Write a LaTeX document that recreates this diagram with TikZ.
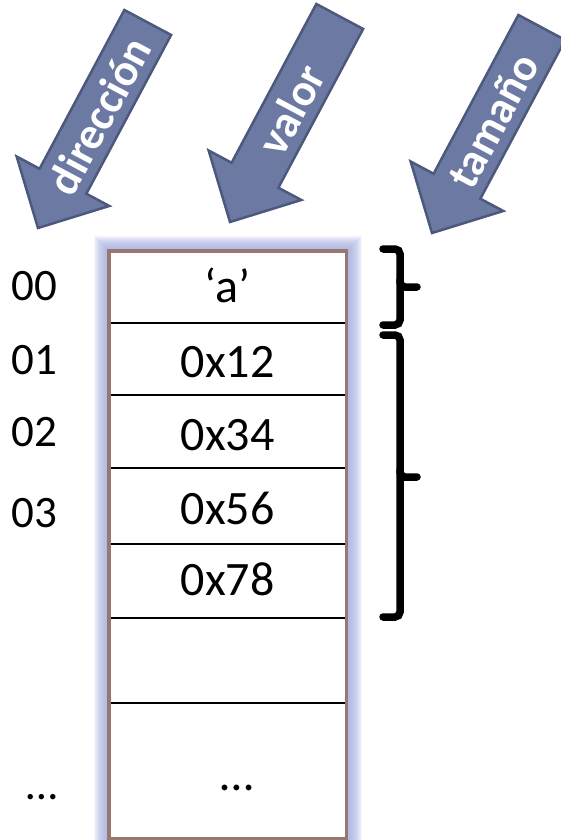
\documentclass[tikz,border=0pt]{standalone}
\usepackage{fontspec}
\setmainfont{Carlito}
\definecolor{arrowfill}{RGB}{108,121,162}
\definecolor{arrowedge}{RGB}{76,88,124}
\definecolor{boxedge}{RGB}{150,120,112}
\definecolor{glowcol}{RGB}{160,170,222}
\begin{document}
\begin{tikzpicture}[x=1pt,y=1pt,
  celltext/.style={font=\fontsize{48}{52}\selectfont, anchor=base, inner sep=0pt},
  addrtext/.style={font=\fontsize{45}{50}\selectfont, anchor=base, inner sep=0pt},
  arrowbody/.style={fill=arrowfill, draw=arrowedge, line width=2.5pt, line join=miter},
  arrowtext/.style={font=\bfseries\fontsize{45}{48}\selectfont, text=white, rotate=61.9, inner sep=0pt},
  bracestyle/.style={line width=7.5pt, rounded corners=5pt, line cap=round},
  rowline/.style={line width=1.6pt, black}
]
\useasboundingbox (0,0) rectangle (561,-840);

% block arrows: tip at the origin of each scope, pointing along +x
\foreach \tx/\ty/\word/\nm in {38/228/dirección/adir, 230/222/valor/aval, 432/233/tamaño/atam}{
  \begin{scope}[shift={(\tx,-\ty)}, rotate=-118.1]
    \draw[arrowbody] (0,0) -- (-53,52.5) -- (-53,26.5) -- (-233,26.5)
      -- (-233,-26.5) -- (-53,-26.5) -- (-53,-52.5) -- cycle;
    \node[arrowtext] (\nm) at (-128,1) {\word};
  \end{scope}
}

% soft glow round the memory column
\foreach \w in {2,4,...,30}{
  \draw[glowcol, line width=\w pt, opacity=0.11] (109,-251) rectangle (346.5,-838.5);
}
\fill[white] (109,-251) rectangle (346.5,-838.5);

% cell separators
\coordinate (L1) at (109,-323);   \coordinate (R1) at (346.5,-323);
\coordinate (L2) at (109,-395);   \coordinate (R2) at (346.5,-395);
\coordinate (L3) at (109,-468);   \coordinate (R3) at (346.5,-468);
\coordinate (L4) at (109,-544);   \coordinate (R4) at (346.5,-544);
\coordinate (L5) at (109,-618);   \coordinate (R5) at (346.5,-618);
\coordinate (L6) at (109,-703);   \coordinate (R6) at (346.5,-703);
\foreach \i in {1,...,6}{ \draw[rowline] (L\i) -- (R\i); }

% column outline
\coordinate (TL) at (109,-251);
\coordinate (BR) at (346.5,-838.5);
\draw[boxedge, line width=3.5pt] (TL) rectangle (BR);

% cell contents
\node[celltext] (v0) at (227.7,-302) {‘a’};
\node[celltext] (v1) at (227.7,-377) {0x12};
\node[celltext] (v2) at (227.7,-450) {0x34};
\node[celltext] (v3) at (227.7,-524) {0x56};
\node[celltext] (v4) at (227.7,-595) {0x78};
\node[celltext] (v5) at (237,-790) {…};

% addresses
\node[addrtext] (d0) at (34,-300) {00};
\node[addrtext] (d1) at (34,-374) {01};
\node[addrtext] (d2) at (34,-446) {02};
\node[addrtext] (d3) at (34,-527) {03};
\node[addrtext] (d4) at (42,-799) {…};

% size braces
\coordinate (b1t) at (383,-249); \coordinate (b1m) at (417,-287); \coordinate (b1b) at (383,-325);
\draw[bracestyle] (b1t) -- (400,-249) -- (400,-287) -- (b1m);
\draw[bracestyle] (400,-280) -- (400,-325) -- (b1b);
\coordinate (b2t) at (383,-335); \coordinate (b2m) at (417,-477); \coordinate (b2b) at (383,-617);
\draw[bracestyle] (b2t) -- (400,-335) -- (400,-477) -- (b2m);
\draw[bracestyle] (400,-470) -- (400,-617) -- (b2b);
\end{tikzpicture}
\end{document}
